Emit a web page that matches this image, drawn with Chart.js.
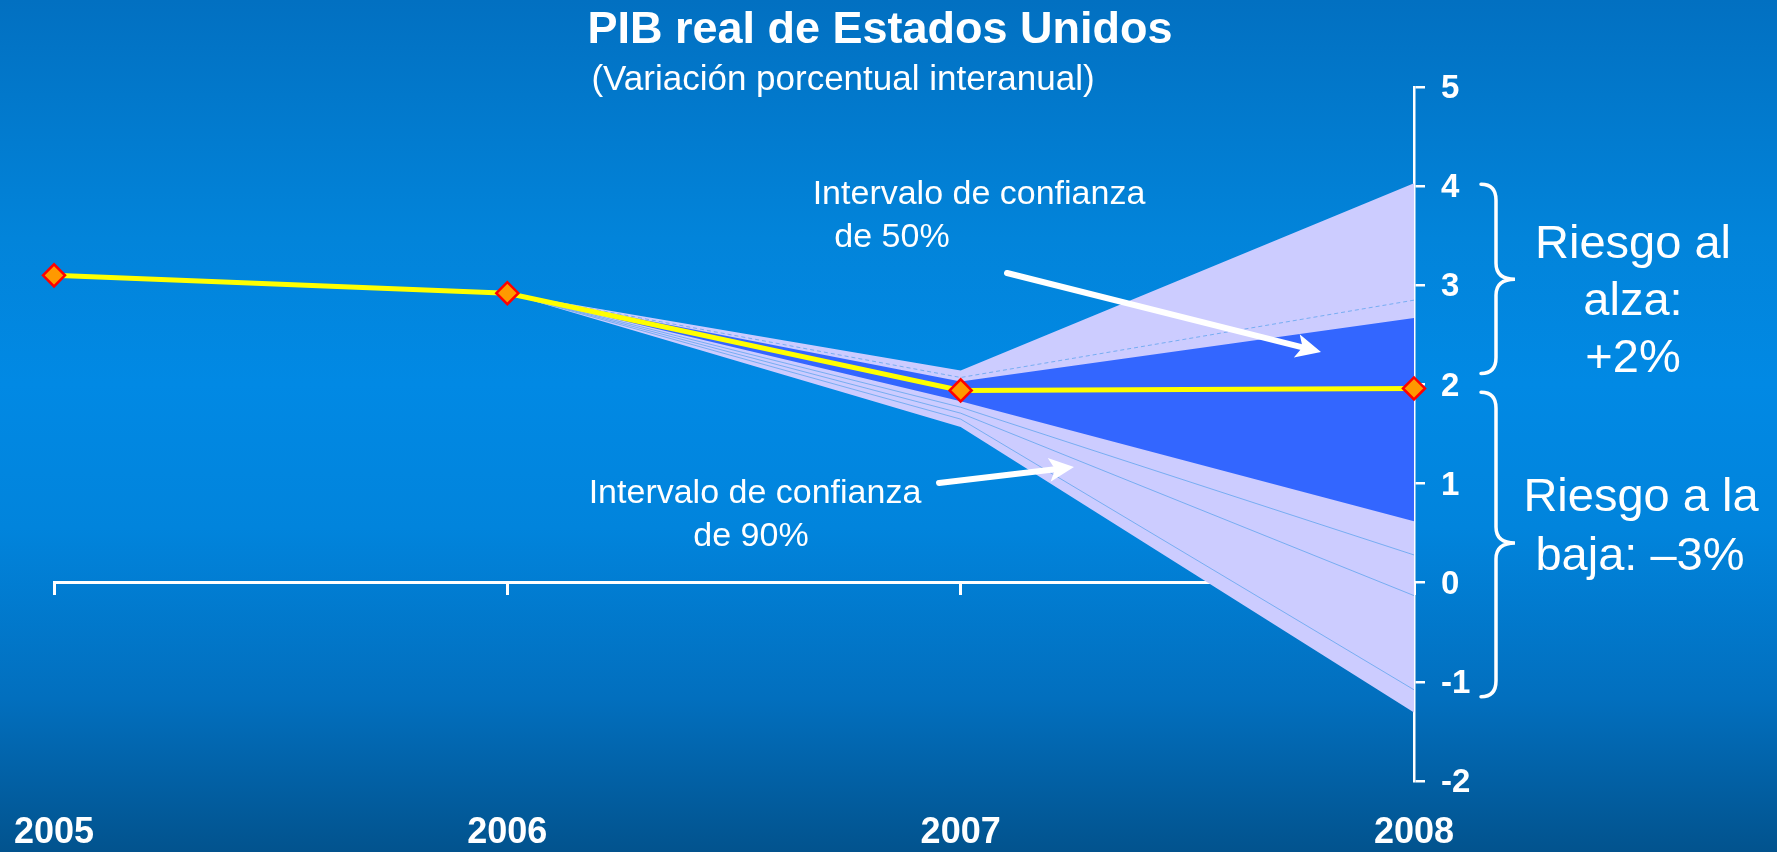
<!DOCTYPE html>
<html lang="es">
<head>
<meta charset="UTF-8">
<title>PIB real de Estados Unidos</title>
<script src="https://cdn.jsdelivr.net/npm/chart.js"></script>
<style>
  html, body { margin: 0; padding: 0; }
  body {
    width: 1777px;
    height: 852px;
    overflow: hidden;
    background: linear-gradient(to bottom, #0270c1 0%, #0284da 28%, #0189e4 45%, #0184dc 62%, #026fbe 82%, #02538e 100%);
  }
  canvas { display: block; }
</style>
</head>
<body>
<canvas id="gdpChart" width="1777" height="852"></canvas>
<script>
const years = ['2005', '2006', '2007', '2008'];
const yTicks = [5, 4, 3, 2, 1, 0, -1, -2];
const gdpGrowth = [3.10, 2.92, 1.94, 1.96];

// fan chart, starting from the 2006 outturn
const ci90Upper = [null, 2.92, 2.14, 4.03];
const ci90Lower = [null, 2.92, 1.57, -1.31];
const ci50Upper = [null, 2.92, 2.03, 2.67];
const ci50Lower = [null, 2.92, 1.83, 0.62];
// thin percentile lines inside the light band
const fanLineUpper = [null, 2.92, 2.07, 2.85];
const fanLineLow1 = [null, 2.92, 1.77, 0.28];
const fanLineLow2 = [null, 2.92, 1.71, -0.13];
const fanLineLow3 = [null, 2.92, 1.65, -1.08];

const FONT = '"Liberation Sans", Arial, sans-serif';
const lightBand = '#ccccff';
const darkBand = '#3366ff';
const thinLine = 'rgba(110, 170, 240, 0.9)';

function bandLine(data, extra) {
    return Object.assign({
        data: data,
        borderWidth: 0,
        pointRadius: 0,
        tension: 0,
        fill: false
    }, extra);
}

// arrows, braces and the loose text of the slide
const annotations = {
    id: 'annotations',
    afterDraw(chart) {
        const ctx = chart.ctx;
        const y = chart.scales.y;
        const axisX = chart.chartArea.right;

        ctx.save();
        ctx.fillStyle = '#fff';
        ctx.strokeStyle = '#fff';

        ctx.textAlign = 'center';
        ctx.textBaseline = 'alphabetic';
        ctx.font = 'bold 45px ' + FONT;
        ctx.fillText('PIB real de Estados Unidos', 880, 43);
        ctx.font = '35px ' + FONT;
        ctx.fillText('(Variación porcentual interanual)', 843, 90);

        ctx.font = '34px ' + FONT;
        ctx.fillText('Intervalo de confianza', 979, 204);
        ctx.fillText('de 50%', 892, 247);
        ctx.fillText('Intervalo de confianza', 755, 503);
        ctx.fillText('de 90%', 751, 546);

        ctx.font = '47px ' + FONT;
        ctx.fillText('Riesgo al', 1633, 258);
        ctx.fillText('alza:', 1633, 315);
        ctx.fillText('+2%', 1633, 372);
        ctx.fillText('Riesgo a la', 1641, 511);
        ctx.fillText('baja: \u20133%', 1640, 570);

        function arrow(x1, y1, x2, y2) {
            const dx = x2 - x1, dy = y2 - y1;
            const len = Math.hypot(dx, dy);
            const ux = dx / len, uy = dy / len;
            const head = 25, half = 12;
            const bx = x2 - ux * head, by = y2 - uy * head;
            ctx.lineWidth = 6;
            ctx.lineCap = 'round';
            ctx.beginPath();
            ctx.moveTo(x1, y1);
            ctx.lineTo(bx + ux * 4, by + uy * 4);
            ctx.stroke();
            ctx.beginPath();
            ctx.moveTo(x2, y2);
            ctx.lineTo(bx - uy * half, by + ux * half);
            ctx.lineTo(bx + ux * 6, by + uy * 6);
            ctx.lineTo(bx + uy * half, by - ux * half);
            ctx.closePath();
            ctx.fill();
        }
        arrow(1007, 273, 1321, 352);
        arrow(939, 483, 1074, 467);

        function brace(vTop, vMid, vBot) {
            const yT = y.getPixelForValue(vTop);
            const yM = y.getPixelForValue(vMid);
            const yB = y.getPixelForValue(vBot);
            const xL = axisX + 67, xS = axisX + 82, xP = axisX + 101, r = 16;
            ctx.lineWidth = 3.5;
            ctx.lineCap = 'round';
            ctx.beginPath();
            ctx.moveTo(xL, yT);
            ctx.quadraticCurveTo(xS, yT, xS, yT + r);
            ctx.lineTo(xS, yM - r);
            ctx.quadraticCurveTo(xS, yM, xP, yM);
            ctx.quadraticCurveTo(xS, yM, xS, yM + r);
            ctx.lineTo(xS, yB - r);
            ctx.quadraticCurveTo(xS, yB, xL, yB);
            ctx.stroke();
        }
        brace(4.02, 3.06, 2.11);
        brace(1.92, 0.40, -1.15);

        ctx.restore();
    }
};

new Chart(document.getElementById('gdpChart'), {
    type: 'line',
    data: {
        labels: years,
        datasets: [
            {
                label: 'PIB real',
                data: gdpGrowth,
                borderColor: '#ffff00',
                borderWidth: 5,
                tension: 0,
                fill: false,
                clip: false,
                pointStyle: 'rectRot',
                pointRadius: 11,
                pointBorderWidth: 2.5,
                pointBackgroundColor: '#ff9900',
                pointBorderColor: '#ff0000'
            },
            bandLine(ci50Upper, { label: '50% sup', fill: '+1', backgroundColor: darkBand }),
            bandLine(ci50Lower, { label: '50% inf' }),
            bandLine(fanLineUpper, { label: 'p sup', borderWidth: 1, borderColor: thinLine, borderDash: [4, 3] }),
            bandLine(fanLineLow1, { label: 'p inf 1', borderWidth: 1, borderColor: thinLine }),
            bandLine(fanLineLow2, { label: 'p inf 2', borderWidth: 1, borderColor: thinLine }),
            bandLine(fanLineLow3, { label: 'p inf 3', borderWidth: 1, borderColor: thinLine }),
            bandLine(ci90Upper, { label: '90% sup', fill: '+1', backgroundColor: lightBand }),
            bandLine(ci90Lower, { label: '90% inf' })
        ]
    },
    options: {
        responsive: false,
        animation: false,
        events: [],
        layout: { padding: { left: 54, top: 87, right: 0, bottom: 0 } },
        plugins: {
            legend: { display: false },
            tooltip: { enabled: false },
            title: { display: false }
        },
        scales: {
            x: {
                position: 'bottom',
                offset: false,
                grid: { display: false, drawTicks: false },
                border: { display: false },
                ticks: {
                    color: '#fff',
                    padding: 30,
                    maxRotation: 0,
                    font: { family: FONT, size: 36, weight: 'bold' }
                },
                afterFit(scale) {
                    scale.height = 71;
                    scale.paddingLeft = 0;
                    scale.paddingRight = 0;
                }
            },
            x2: {
                type: 'category',
                axis: 'x',
                labels: years,
                position: { y: 0 },
                offset: false,
                grid: {
                    display: true,
                    drawOnChartArea: false,
                    drawTicks: true,
                    tickLength: 11,
                    color: '#fff',
                    lineWidth: 3
                },
                border: { display: true, color: '#fff', width: 3 },
                ticks: { display: false },
                afterFit(scale) {
                    scale.paddingLeft = 0;
                    scale.paddingRight = 0;
                }
            },
            y: {
                position: 'right',
                min: -2,
                max: 5,
                afterBuildTicks(scale) {
                    scale.ticks = yTicks.map(v => ({ value: v }));
                },
                grid: {
                    drawOnChartArea: false,
                    drawTicks: true,
                    tickLength: 11,
                    color: '#fff',
                    lineWidth: 2.5
                },
                border: { display: true, color: '#fff', width: 2.5 },
                ticks: {
                    color: '#fff',
                    padding: 16,
                    labelOffset: 2,
                    font: { family: FONT, size: 33, weight: 'bold' }
                },
                afterFit(scale) { scale.width = 363; }
            }
        }
    },
    plugins: [annotations]
});
</script>
</body>
</html>
